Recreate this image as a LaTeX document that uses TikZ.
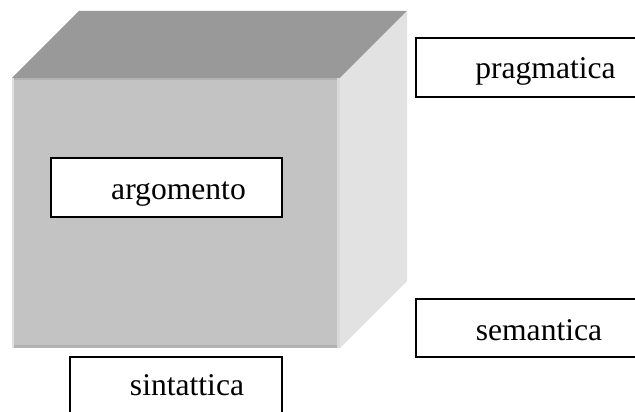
\documentclass[tikz,border=0pt]{standalone}
\usepackage{fontspec}
\setmainfont{Liberation Serif}
\definecolor{topgray}{HTML}{999999}
\definecolor{frontgray}{HTML}{C3C3C3}
\definecolor{sidegray}{HTML}{E2E2E2}
\begin{document}
\begin{tikzpicture}[x=1pt,y=-1pt,
  labelbox/.style={draw=black,line width=1.5pt,fill=white,inner sep=0pt},
  labeltext/.style={anchor=base,inner sep=0pt,font=\fontsize{31.6}{36}\selectfont}]
\useasboundingbox (0,0) rectangle (635,412);
\clip (0,0) rectangle (635,412);
% cube faces
\fill[topgray] (12,78) -- (79,11) -- (407,11) -- (340,78) -- cycle;
\fill[sidegray] (340,78) -- (407,11) -- (407,281) -- (340,348) -- cycle;
\fill[frontgray] (12,78) rectangle (340,348);
% soft edges of the front face
\fill[black!30] (12,78) rectangle (340,80);
\fill[black!30] (12,345) rectangle (340,348);
\fill[black!12] (12,78) rectangle (14,348);
\fill[black!15] (337,78) rectangle (340,348);
% labelled boxes
\node[labelbox,minimum width=231pt,minimum height=59pt] (argbox) at (166.5,187.5) {};
\node[labeltext] (arg) at (178.5,199) {argomento};
\node[labelbox,minimum width=230pt,minimum height=59pt] (pragbox) at (531,67.5) {};
\node[labeltext] (prag) at (545.5,78) {pragmatica};
\node[labelbox,minimum width=230pt,minimum height=58pt] (sembox) at (531,328) {};
\node[labeltext] (sem) at (539,340) {semantica};
\node[labelbox,minimum width=212pt,minimum height=58pt] (sinbox) at (176,386) {};
\node[labeltext] (sin) at (187,395) {sintattica};
\end{tikzpicture}
\end{document}
